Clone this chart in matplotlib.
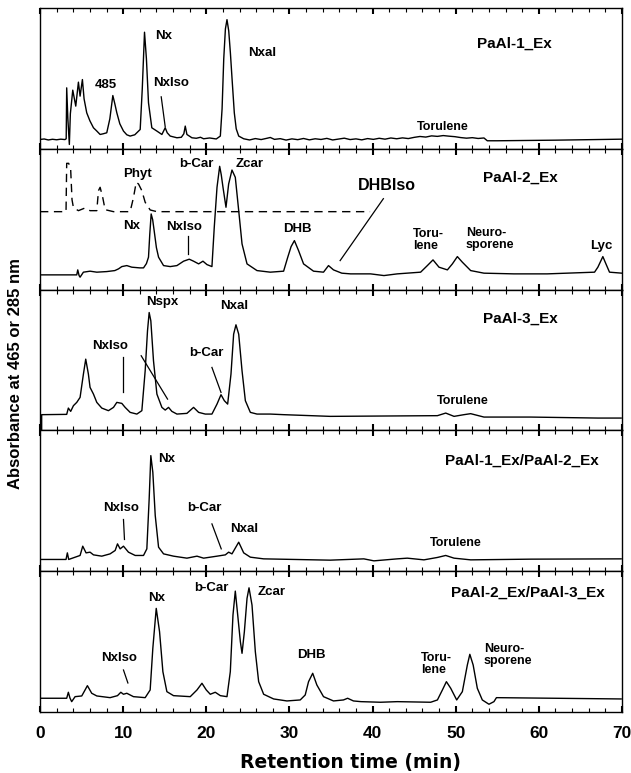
import matplotlib

matplotlib.use("Agg")

import matplotlib.pyplot as plt  # noqa: E402
from matplotlib.ticker import MultipleLocator  # noqa: E402

# ─── Chromatogram traces (retention time in min, absorbance in arbitrary units) ───

P1_TIME = [0, 0.5, 1.0, 1.5, 2.0, 2.5, 3.0, 3.15, 3.21, 3.35, 3.53, 3.65, 3.94, 4.3,
           4.62, 4.82, 5.1, 5.3, 5.62, 6.0, 6.43, 6.8, 7.23, 7.6, 8.03, 8.4, 8.76,
           9.0, 9.24, 9.6, 10.04, 10.44, 10.84, 11.4, 12.05, 12.3, 12.57, 12.8, 13.05,
           13.45, 14.06, 14.66, 15.06, 15.3, 15.66, 16.47, 17.0, 17.3, 17.47, 17.67,
           18.27, 18.8, 19.3, 19.68, 20.4, 21.2, 21.69, 21.9, 22.1, 22.3, 22.49, 22.7,
           22.9, 23.1, 23.37, 23.6, 23.9, 24.5, 25.2, 25.9, 26.6, 27.3, 27.7, 28.2,
           28.9, 29.6, 30.3, 31.0, 31.7, 32.4, 33.1, 33.8, 34.5, 35.2, 35.9, 36.6,
           37.3, 38.0, 38.7, 39.4, 40.1, 40.8, 41.5, 42.2, 42.9, 43.6, 44.3, 45.0,
           45.7, 46.4, 47.1, 47.8, 48.5, 49.2, 49.9, 50.6, 51.3, 52.0, 52.7, 53.4,
           53.8, 55.0, 62.0, 70.0]
P1_ABS = [9.3, 9.8, 8.8, 9.5, 9.0, 9.6, 9.2, 10, 61, 30, 4.3, 35, 58.7, 42.7,
          66.7, 52.7, 69.3, 50, 36, 28, 21, 18, 14.3, 15, 16, 30, 53.3,
          45, 36, 25, 17.7, 14, 12.7, 14, 19.3, 60, 116.7, 90, 46,
          21, 17.7, 14.3, 21, 16, 12.7, 11, 11.5, 15, 22.7, 14.3,
          11, 10.5, 11.5, 10, 10.8, 9.8, 12.7, 40, 90, 120, 129.3, 118,
          96, 70, 36, 20, 12.7, 10, 8.8, 10.2, 9.2, 10.5, 11.3, 9.4,
          10.1, 8.7, 9.9, 9.1, 10.3, 8.9, 10.0, 9.3, 10.4, 8.8, 9.7, 10.6,
          9.2, 9.9, 8.9, 10.2, 9.4, 10.5, 9.6, 10.8, 10.0, 10.9, 10.2, 11.4,
          12.3, 11.7, 12.9, 12.4, 13.2, 12.6, 12.1, 11.2, 10.6, 11.1, 10.3, 10.8,
          8.0, 8.0, 8.6, 9.6]

P2_TIME = [0, 4.42, 4.54, 4.7, 4.82, 5.22, 6.02, 6.83, 8.03, 9.0, 9.44, 9.84, 10.44,
           11.04, 12.0, 12.45, 12.8, 13.05, 13.2, 13.37, 13.55, 13.73, 14.0, 14.26,
           14.86, 15.66, 16.47, 17.27, 17.95, 18.47, 19.08, 19.6, 20.08, 20.68, 20.96,
           21.29, 21.61, 21.8, 22.01, 22.37, 22.69, 23.09, 23.49, 23.9, 24.3, 24.9,
           26.1, 27.7, 29.3, 29.8, 30.2, 30.6, 31.1, 31.7, 32.9, 34.1, 34.7, 35.3,
           36.3, 37.35, 39.76, 41.37, 42.97, 45.78, 46.59, 47.27, 47.99, 49.0, 49.6,
           50.2, 50.8, 51.8, 53.4, 57.0, 61.0, 66.7, 67.1, 67.7, 68.07, 68.5, 70]
P2_ABS = [14.7, 14.7, 19.7, 14, 12.4, 17.4, 18.4, 17.4, 18.0, 19, 20.7, 23.0, 24.0,
          22.4, 21.7, 21.7, 26, 32.4, 55, 75.7, 70, 59.0, 42, 32.4,
          24.0, 23.0, 24.0, 28.4, 30.4, 28.4, 25.7, 28.4, 25.0, 23.0, 62.4,
          102.4, 123.4, 115, 102.4, 82.4, 105.7, 119.7, 112.4, 79.0, 45.7, 25.7,
          19.0, 17.4, 18.4, 32.4, 43, 49.0, 39, 25.7, 18.4, 17.4, 24.0, 19.7,
          16.4, 15.7, 15.7, 14.0, 15.7, 17.4, 24.0, 29.7, 22.4, 19.7, 25.7,
          33.0, 27.4, 19.0, 16.4, 15.7, 15.7, 17.4, 22.4, 33.0, 25.7, 17.4, 16.4]

# dashed trace (285 nm, phytoene region)
P2D_TIME = [0, 3.13, 3.21, 3.45, 3.69, 3.85, 4.02, 4.62, 5.42, 6.02, 6.83, 7.03, 7.23,
            7.55, 7.83, 8.84, 10.84, 11.24, 11.57, 11.85, 12.25, 12.65, 13.25, 14.06, 39.7]
P2D_ABS = [78, 78, 126.4, 126.4, 120, 90, 82, 79, 81.7, 79, 79, 99, 102.4,
           92, 80, 78, 78, 92, 107.4, 105.7, 99, 87.4, 79.7, 78, 78]

P3_TIME = [0.2, 0.2, 3.21, 3.41, 3.69, 4.02, 4.42, 4.82, 5.22, 5.5, 5.82, 6.02, 6.43,
           6.83, 7.43, 8.23, 8.84, 9.24, 9.84, 10.24, 10.84, 11.65, 12.25, 12.65,
           12.93, 13.13, 13.33, 13.65, 14.06, 14.66, 15.06, 15.46, 15.86, 16.47,
           17.67, 18.47, 19.08, 19.88, 20.68, 21.29, 21.77, 22.17, 22.57, 22.97,
           23.29, 23.57, 23.9, 24.3, 24.7, 25.3, 26.1, 27.7, 29.3, 34.9, 47.8, 48.8,
           49.8, 51.0, 51.8, 53.4, 59.0, 67.1, 69.9]
P3_ABS = [0, 15.7, 16, 22.3, 19, 24.7, 28, 33, 56.3, 71.3, 56.3, 43, 36.3,
          28, 22.3, 19.7, 23, 28, 27, 23, 18, 16.3, 19.7, 59.7,
          99.7, 118, 109.7, 69.7, 36.3, 23, 20.3, 23, 19, 16.3,
          17, 23, 18, 16.3, 16.3, 26.3, 35.7, 29.7, 26.3, 56.3,
          96.3, 105.7, 96.3, 59.7, 29.7, 18, 16.3, 16.3, 15.7, 14, 14.7, 17.3,
          14, 15.7, 16.7, 13.3, 13.3, 12.3, 12.3]

P4_TIME = [0, 3.13, 3.29, 3.45, 4.82, 5.14, 5.54, 6.02, 6.43, 7.43, 8.43, 9.04, 9.32,
           9.64, 10.04, 10.64, 11.45, 12.45, 12.85, 13.13, 13.33, 13.57, 13.86, 14.26,
           14.86, 16.06, 17.67, 18.88, 19.68, 21.29, 22.29, 22.69, 23.09, 23.9, 24.5,
           25.3, 26.9, 34.9, 38.95, 40.16, 42.97, 44.18, 46.18, 47.8, 48.8, 49.8,
           51.8, 59.0, 69.9]
P4_ABS = [11.7, 11.7, 18.3, 11.7, 15.7, 25, 18.3, 19, 16.3, 15, 17.3, 20.7, 27.3,
          22.3, 25, 19, 15.7, 15.7, 22.3, 72.3, 115.7, 99, 55.7, 24,
          17.3, 15, 13, 15, 13, 15, 16.3, 19, 17.3, 29, 18.3,
          14, 12.3, 11, 12.3, 10.3, 12.3, 13, 11.3, 13.7, 15.7, 13,
          11.3, 12, 12.3]

P5_TIME = [0, 3.21, 3.41, 3.6, 3.81, 4.22, 5.02, 5.42, 5.7, 6.22, 6.83, 8.43, 9.32,
           9.72, 10.04, 10.44, 11.24, 12.65, 13.25, 13.57, 13.98, 14.38, 14.78, 15.26,
           16.06, 18.07, 18.88, 19.48, 20.0, 20.48, 21.08, 21.69, 22.49, 22.89, 23.21,
           23.49, 23.78, 24.1, 24.3, 24.58, 24.9, 25.14, 25.5, 25.9, 26.3, 26.9, 28.1,
           29.7, 31.3, 31.9, 32.3, 32.8, 33.3, 34.1, 35.3, 36.5, 37.0, 37.7, 38.6,
           40.96, 42.97, 46.99, 47.8, 48.4, 48.88, 49.4, 50.12, 50.8, 51.4, 51.7,
           52.1, 52.6, 53.2, 54.0, 54.6, 54.9, 69.9]
P5_ABS = [13.7, 13.7, 19.7, 14, 10.3, 15.3, 16, 22, 26.3, 18.7, 16, 14.3, 16.3,
          19.7, 17.7, 18.7, 15.3, 14.3, 22, 63.7, 103.7, 80.3, 40.3, 20.3,
          16.3, 15.3, 22, 28.7, 22, 17.7, 19.7, 16.3, 15.3, 40.3, 97,
          121, 97, 70.3, 58.7, 80.3, 113.7, 124.3, 107, 60.3, 30.3, 17.7, 13,
          11, 12, 17, 30.3, 38.7, 27, 15.3, 11, 12, 13.7, 11, 10.3,
          9.7, 10.3, 9.7, 12, 22, 30.3, 23.7, 12, 20.3, 47, 57.7,
          47, 23.7, 12, 7.7, 10.3, 14.3, 13]

SAMPLE_NAMES = ["PaAl-1_Ex", "PaAl-2_Ex", "PaAl-3_Ex",
                "PaAl-1_Ex/PaAl-2_Ex", "PaAl-2_Ex/PaAl-3_Ex"]

# peak labels per panel: (text, time, absorbance)
PEAK_LABELS = [
    [("485", 7.9, 63.5), ("Nx", 14.9, 113), ("NxIso", 15.8, 66),
     ("Nxal", 26.7, 96)],
    [("Phyt", 11.75, 116), ("b-Car", 18.8, 126), ("Zcar", 25.2, 126),
     ("Nx", 11.0, 64), ("NxIso", 17.3, 63), ("DHB", 31.0, 61),
     ("Lyc", 67.5, 44)],
    [("NxIso", 8.43, 84), ("Nspx", 14.76, 129), ("b-Car", 20.06, 77),
     ("Nxal", 23.4, 125)],
    [("NxIso", 9.7, 63), ("Nx", 15.24, 112), ("b-Car", 19.8, 63),
     ("Nxal", 24.6, 42)],
    [("NxIso", 9.46, 54.5), ("Nx", 14.04, 114), ("b-Car", 20.66, 124),
     ("Zcar", 27.8, 120), ("DHB", 32.65, 57)],
]

# small labels (Torulene / two-line names): (text, time, absorbance)
SMALL_LABELS = [
    [("Torulene", 48.4, 22)],
    [("Toru-\nlene", 44.9, 50), ("Neuro-\nsporene", 51.2, 51)],
    [("Torulene", 50.9, 29)],
    [("Torulene", 50.0, 28)],
    [("Toru-\nlene", 45.8, 48.5), ("Neuro-\nsporene", 53.4, 57)],
]

# leader lines: ((t0, a0), (t1, a1))
LEADERS = [
    [((14.58, 52), (15.06, 22))],
    [((17.83, 54), (17.83, 36)), ((41.3, 91), (36.1, 29))],
    [((9.96, 73), (9.96, 38)), ((12.17, 74.7), (15.34, 31.3)),
     ((20.68, 63), (21.77, 38))],
    [((10.04, 51.7), (10.16, 31.7)), ((20.68, 47.3), (21.8, 22.3))],
    [((10.04, 42), (10.57, 29))],
]

NAME_POS = [(57.0, 105), (57.8, 112), (57.8, 111.5), (57.95, 110.5), (58.7, 119.5)]

TRACES = [(P1_TIME, P1_ABS), (P2_TIME, P2_ABS), (P3_TIME, P3_ABS),
          (P4_TIME, P4_ABS), (P5_TIME, P5_ABS)]

LABEL_FONT = ["Liberation Sans", "DejaVu Sans"]

fig, axes = plt.subplots(5, 1, figsize=(6.31, 7.73), dpi=100, sharex=True)
fig.subplots_adjust(left=0.0634, right=0.9857, top=0.9897, bottom=0.079, hspace=0)

for i, ax in enumerate(axes):
    t, a = TRACES[i]
    ax.plot(t, a, color="black", linewidth=1.0)
    if i == 1:
        ax.plot(P2D_TIME, P2D_ABS, color="black", linewidth=1.0,
                linestyle=(0, (6, 4)))

    for text, x, y in PEAK_LABELS[i]:
        ax.text(x, y, text, ha="center", va="center", fontsize=9.5,
                fontweight="bold", family=LABEL_FONT)
    for text, x, y in SMALL_LABELS[i]:
        ha = "center" if "\n" not in text else "left"
        ax.text(x, y, text, ha=ha, va="center", fontsize=9,
                fontweight="bold", family=LABEL_FONT, linespacing=1.0)
    for (x0, y0), (x1, y1) in LEADERS[i]:
        ax.plot([x0, x1], [y0, y1], color="black", linewidth=0.9)

    nx, ny = NAME_POS[i]
    ax.text(nx, ny, SAMPLE_NAMES[i], ha="center", va="center", fontsize=11,
            fontweight="bold", family=LABEL_FONT)

    ax.set_xlim(0, 70)
    ax.set_ylim(0, 141)
    ax.set_yticks([])
    ax.xaxis.set_major_locator(MultipleLocator(10))
    ax.xaxis.set_minor_locator(MultipleLocator(2))
    ax.tick_params(axis="x", which="both", direction="in", top=True, bottom=True,
                   labelbottom=(i == 4))
    ax.tick_params(axis="x", which="major", length=4, width=1.5)
    ax.tick_params(axis="x", which="minor", length=3, width=0.8)
    for spine in ax.spines.values():
        spine.set_linewidth(1.0)

# DHBIso label in panel 2 is larger than the others
axes[1].text(41.7, 104, "DHBIso", ha="center", va="center", fontsize=11.5,
             fontweight="bold", family=LABEL_FONT)

axes[4].tick_params(axis="x", which="major", pad=10)
for lbl in axes[4].get_xticklabels():
    lbl.set_fontsize(12.5)
    lbl.set_fontweight("bold")
    lbl.set_family(LABEL_FONT)

fig.text(0.556, 0.0142, "Retention time (min)", ha="center", va="center",
         fontsize=13.5, fontweight="bold", family="DejaVu Sans")
fig.text(0.025, 0.517, "Absorbance at 465 or 285 nm", ha="center", va="center",
         rotation=90, fontsize=12, fontweight="bold", family=LABEL_FONT)

fig.savefig("out.png", dpi=100)
plt.close(fig)
